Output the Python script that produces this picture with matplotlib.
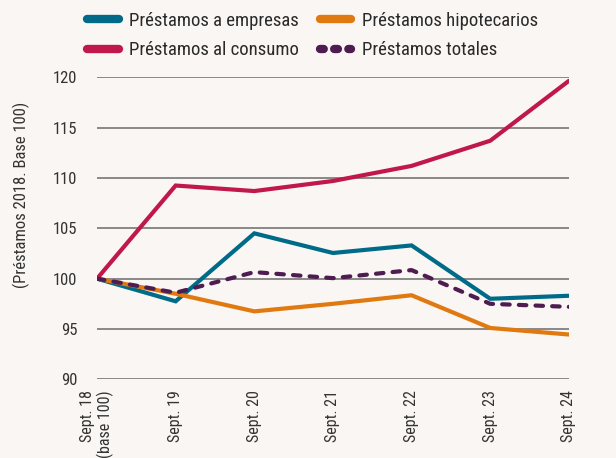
import matplotlib
matplotlib.use("Agg")
import matplotlib.pyplot as plt
from matplotlib.lines import Line2D
from matplotlib import font_manager

names = {f.name for f in font_manager.fontManager.ttflist}
fam = [n for n in ["Liberation Sans Narrow", "Roboto Condensed", "Open Sans Condensed", "Roboto", "Noto Sans"] if n in names]
plt.rcParams['font.family'] = fam + ["DejaVu Sans"]

categories = ["Sept. 18\n(base 100)", "Sept. 19", "Sept. 20", "Sept. 21", "Sept. 22", "Sept. 23", "Sept. 24"]
empresas = [100, 97.75, 104.5, 102.55, 103.3, 98.0, 98.3]
hipotecarios = [100, 98.5, 96.75, 97.5, 98.35, 95.1, 94.45]
consumo = [100, 109.25, 108.7, 109.7, 111.2, 113.7, 119.65]
totales = [100, 98.6, 100.65, 100.05, 100.85, 97.5, 97.2]
yticks = [90, 95, 100, 105, 110, 115, 120]

series = [
    ("Préstamos a empresas", empresas, "#006B88", "-"),
    ("Préstamos hipotecarios", hipotecarios, "#E07A10", "-"),
    ("Préstamos al consumo", consumo, "#C0184A", "-"),
    ("Préstamos totales", totales, "#4E1C50", "--"),
]

bg = "#FAF6F3"
fig = plt.figure(figsize=(6.16, 4.58), dpi=100, facecolor=bg)
ax = fig.add_axes([0.1575, 0.1718, 0.766, 0.6594], facecolor=bg)

x = list(range(len(categories)))
for label, vals, col, ls in series:
    if ls == "--":
        ax.plot(x, vals, color=col, lw=3, ls=(0, (1.8, 2.2)), dash_capstyle="round",
                zorder=4)
    else:
        ax.plot(x, vals, color=col, lw=3, solid_capstyle="round",
                solid_joinstyle="miter", zorder=3)

ax.set_xlim(0, len(categories) - 1)
ax.set_ylim(90, 120)
ax.set_yticks(yticks)
ax.set_yticklabels([str(v) for v in yticks], fontsize=12, color="#333333")
ax.set_xticks(x)
ax.set_xticklabels(categories, rotation=90, fontsize=11.5, color="#333333",
                   ha="center", va="top", multialignment="right")
ax.tick_params(axis="both", length=0)
ax.tick_params(axis="y", pad=14)
ax.tick_params(axis="x", pad=8)
for s in ax.spines.values():
    s.set_visible(False)
ax.yaxis.grid(True, color="#808080", lw=1.3)
ax.set_axisbelow(True)
ax.set_ylabel("(Préstamos 2018. Base 100)", fontsize=12, color="#333333")
ax.yaxis.set_label_coords(-0.143, 0.61)

handles = []
for label, vals, col, ls in series:
    if ls == "--":
        h = Line2D([], [], color=col, lw=6, ls=(0, (0.45, 1.25)), dash_capstyle="round")
    else:
        h = Line2D([], [], color=col, lw=6, solid_capstyle="round")
    handles.append(h)
order = [0, 2, 1, 3]
fig.legend([handles[i] for i in order], [series[i][0] for i in order],
           loc="upper left", bbox_to_anchor=(0.141, 0.974), ncol=2, frameon=False,
           fontsize=13.5, handlelength=1.7, handletextpad=0.55, columnspacing=1.1,
           labelspacing=0.6, labelcolor="#2a2a2a", borderpad=0, borderaxespad=0)

fig.savefig("out.png", dpi=100, facecolor=bg)
